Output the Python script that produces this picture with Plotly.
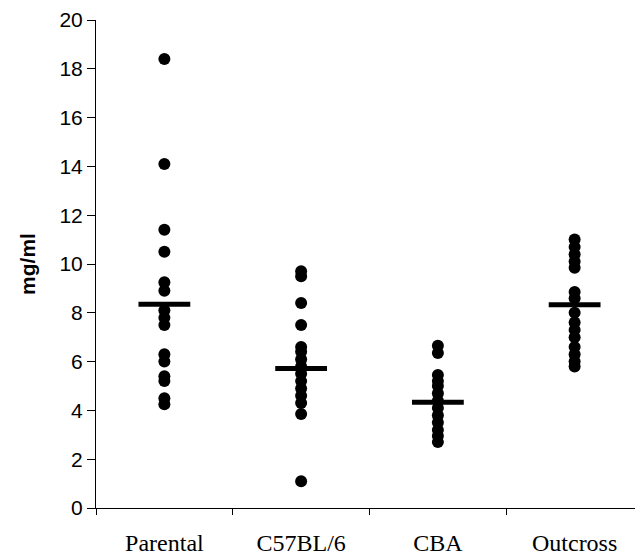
import plotly.graph_objects as go

categories = ["Parental", "C57BL/6", "CBA", "Outcross"]

parental = [18.4, 14.1, 11.4, 10.5, 9.25, 8.9, 8.1, 7.8, 7.5, 6.3, 6.0, 5.4, 5.2, 4.5, 4.25]
c57bl6 = [9.7, 9.5, 8.4, 7.5, 6.6, 6.4, 6.1, 5.8, 5.5, 5.2, 4.9, 4.6, 4.3, 3.85, 1.1]
cba = [6.65, 6.35, 5.45, 5.2, 5.0, 4.7, 4.4, 4.1, 3.8, 3.5, 3.2, 2.95, 2.7]
outcross = [11.0, 10.7, 10.4, 10.1, 9.85, 8.85, 8.6, 8.0, 7.6, 7.3, 7.0, 6.6, 6.3, 6.0, 5.8]

means = [8.35, 5.72, 4.33, 8.33]

groups = [parental, c57bl6, cba, outcross]

fig = go.Figure()
for cat, vals in zip(categories, groups):
    fig.add_trace(go.Scatter(
        x=[cat] * len(vals), y=vals, mode="markers",
        marker=dict(color="black", size=12, line=dict(width=0)),
        showlegend=False, hoverinfo="y"))

fig.add_trace(go.Scatter(
    x=categories, y=means, mode="markers",
    marker=dict(symbol="line-ew", size=37, line=dict(color="black", width=5)),
    showlegend=False, hoverinfo="y"))

fig.update_layout(
    width=635, height=548,
    margin=dict(l=88, r=0, t=6, b=48),
    paper_bgcolor="white", plot_bgcolor="white",
    xaxis=dict(
        type="category", categoryorder="array", categoryarray=categories,
        range=[-0.5, 3.5], showgrid=False, zeroline=False,
        showline=True, linecolor="black", linewidth=1,
        ticks="outside", tickson="boundaries", ticklen=6, tickcolor="black", tickwidth=1,
        ticklabelstandoff=13,
        tickfont=dict(family="Liberation Serif", size=24, color="black")),
    yaxis=dict(
        range=[0, 20], tickmode="linear", tick0=0, dtick=2,
        showgrid=False, zeroline=False, ticklabeloverflow="allow",
        showline=True, linecolor="black", linewidth=1,
        ticks="outside", ticklen=8, tickcolor="black", tickwidth=1,
        tickfont=dict(family="Liberation Sans", size=21, color="black"),
        title=dict(text="<b>mg/ml</b>", font=dict(family="Liberation Sans", size=21, color="black"), standoff=18)),
)

fig.write_html("out.html")
